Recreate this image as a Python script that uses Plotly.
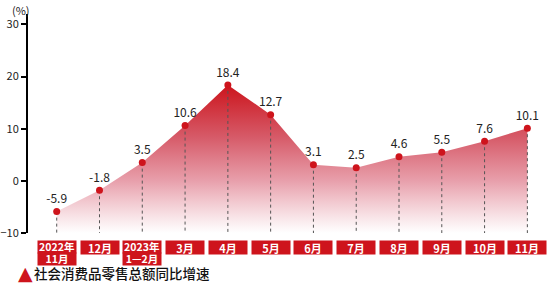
import plotly.graph_objects as go

categories = ["2022年<br>11月", "12月", "2023年<br>1—2月", "3月", "4月", "5月",
              "6月", "7月", "8月", "9月", "10月", "11月"]
values = [-5.9, -1.8, 3.5, 10.6, 18.4, 12.7, 3.1, 2.5, 4.6, 5.5, 7.6, 10.1]
labels = ["-5.9", "-1.8", "3.5", "10.6", "18.4", "12.7", "3.1", "2.5", "4.6", "5.5", "7.6", "10.1"]
y_ticks = [-10, 0, 10, 20, 30]
legend_text = "社会消费品零售总额同比增速"

RED = "#CE141C"
FONT = "Noto Sans CJK SC"
y_min, y_max = -10, 32

xs = list(range(len(values)))

fig = go.Figure()

# baseline for fill
fig.add_trace(go.Scatter(x=xs, y=[y_min] * len(xs), mode="lines",
                         line=dict(width=0), hoverinfo="skip", showlegend=False))
# gradient area
fig.add_trace(go.Scatter(
    x=xs, y=values, mode="lines", line=dict(width=0, color="rgba(0,0,0,0)"),
    fill="tonexty",
    fillgradient=dict(type="vertical", start=y_min, stop=max(values),
                      colorscale=[[0, "rgba(255,255,255,0.9)"],
                                  [0.35, "rgba(232,160,172,1)"],
                                  [0.65, "rgba(214,90,104,1)"],
                                  [1, "rgba(204,20,28,1)"]]),
    hoverinfo="skip", showlegend=False))

# dotted drop lines
dx, dy = [], []
for i, v in zip(xs, values):
    dx += [i, i, None]
    dy += [v, y_min, None]
fig.add_trace(go.Scatter(x=dx, y=dy, mode="lines",
                         line=dict(color="#555555", width=1, dash="dot"),
                         hoverinfo="skip", showlegend=False))

# points with labels
fig.add_trace(go.Scatter(x=xs, y=values, mode="markers+text", text=labels,
                         textposition="top center",
                         textfont=dict(family=FONT, size=12, color="#222222"),
                         marker=dict(color=RED, size=7),
                         cliponaxis=False, showlegend=False))

annotations = []
for i, c in zip(xs, categories):
    lines = c.split("<br>")
    if len(lines) == 1:
        annotations.append(dict(
            x=i, xref="x", y=0, yref="paper", yanchor="top", yshift=-7,
            text=lines[0], showarrow=False, bgcolor=RED, borderpad=0,
            width=38, height=13, valign="middle",
            font=dict(family=FONT, size=11, color="white", weight="bold")))
    else:
        for k, ln in enumerate(lines):
            annotations.append(dict(
                x=i, xref="x", y=0, yref="paper", yanchor="top",
                yshift=-7 - 11.5 * k,
                text=ln, showarrow=False, bgcolor=RED, borderpad=0,
                width=38, height=11.5, valign="middle",
                font=dict(family=FONT, size=10.5, color="white", weight="bold")))

annotations.append(dict(x=0, xref="paper", xanchor="center", xshift=-7,
                        y=1, yref="paper", yanchor="bottom", yshift=-6,
                        text="(%)", showarrow=False,
                        font=dict(family=FONT, size=11, color="#222222")))

annotations.append(dict(x=0, xref="paper", xanchor="center", xshift=-3,
                        y=0, yref="paper", yanchor="middle", yshift=-40,
                        text="▲", showarrow=False,
                        font=dict(family="DejaVu Sans", size=19, color=RED)))
annotations.append(dict(x=0, xref="paper", xanchor="left", xshift=4,
                        y=0, yref="paper", yanchor="middle", yshift=-40,
                        text=legend_text, showarrow=False,
                        font=dict(family=FONT, size=13.5, color="#111111",
                                  weight=500)))

fig.update_layout(
    width=547, height=285,
    margin=dict(l=23, r=0, t=14, b=52),
    paper_bgcolor="white", plot_bgcolor="white",
    annotations=annotations,
    xaxis=dict(range=[-0.671, 11.459], showgrid=False, zeroline=False,
               showticklabels=False, ticks="", showline=False),
    yaxis=dict(range=[y_min, y_max], tickvals=y_ticks, showgrid=False,
               zeroline=False, showline=True, linecolor="black", linewidth=2,
               ticks="outside", ticklen=5, tickwidth=2, tickcolor="black",
               tickfont=dict(family=FONT, size=11, color="#222222")),
)

fig.write_html("out.html")
